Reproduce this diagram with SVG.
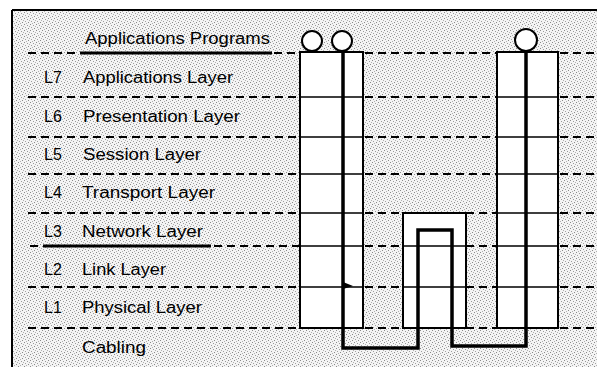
<svg xmlns="http://www.w3.org/2000/svg" width="597" height="367" viewBox="0 0 597 367">
<defs>
<pattern id="stip" width="6" height="6" patternUnits="userSpaceOnUse">
<rect width="6" height="6" fill="#f4f4f4"/>
<rect x="0" y="0" width="1" height="1" fill="#8a8a8a"/>
<rect x="3" y="1" width="1" height="1" fill="#9a9a9a"/>
<rect x="1" y="3" width="1" height="1" fill="#a0a0a0"/>
<rect x="4" y="4" width="1" height="1" fill="#8a8a8a"/>
<rect x="5" y="2" width="1" height="1" fill="#b0b0b0"/>
<rect x="2" y="5" width="1" height="1" fill="#b0b0b0"/>
</pattern>
</defs>
<style>
.t{font-family:"Liberation Sans",Arial,sans-serif;font-size:16px;fill:#000}
.dash{stroke:#000;stroke-width:2;stroke-dasharray:8 5;fill:none}
.solid{stroke:#000;stroke-width:2;fill:none}
.thin{stroke:#000;stroke-width:1.5;fill:none}
.box{fill:#fff;stroke:#000;stroke-width:2}
.circ{fill:#fff;stroke:#000;stroke-width:2}
.wire{stroke:#000;stroke-width:3.5;fill:none;stroke-linejoin:miter}
</style>
<rect x="0" y="0" width="597" height="367" fill="#fff"/>
<rect x="12" y="10" width="585" height="357" fill="url(#stip)"/>
<g id="frame">
<line x1="12" y1="10" x2="597" y2="10" class="solid"/>
<line x1="12" y1="10" x2="12" y2="367" class="solid"/>
</g>
<g id="layer-lines">
<line x1="28" y1="53" x2="80" y2="53" class="dash"/>
<line x1="80" y1="53" x2="272" y2="53" stroke="#000" stroke-width="3"/>
<line x1="274" y1="53" x2="300" y2="53" class="dash"/>
<line x1="28" y1="97" x2="300" y2="97" class="dash"/>
<line x1="28" y1="137" x2="300" y2="137" class="dash"/>
<line x1="28" y1="174" x2="300" y2="174" class="dash"/>
<line x1="28" y1="213" x2="300" y2="213" class="dash"/>
<line x1="30" y1="246" x2="42" y2="246" class="dash"/>
<line x1="43" y1="246" x2="211" y2="246" stroke="#000" stroke-width="3"/>
<line x1="214" y1="246" x2="300" y2="246" class="dash"/>
<line x1="28" y1="287" x2="300" y2="287" class="dash"/>
<line x1="28" y1="328" x2="300" y2="328" class="dash"/>
<path class="dash" d="M365 53H497M365 97H497M365 137H497M365 174H497M365 213H403M466 213H497M365 246H403M466 246H497M365 287H403M466 287H497M365 328H403M466 328H497"/>
<path class="dash" d="M560 53H597M560 97H597M560 137H597M560 174H597M560 213H597M560 246H597M560 287H597M560 328H597"/>
</g>
<g id="labels">
<text class="t" x="85" y="44" textLength="185" lengthAdjust="spacingAndGlyphs">Applications Programs</text>
<text class="t" x="44" y="83">L7</text>
<text class="t" x="83" y="83" textLength="150" lengthAdjust="spacingAndGlyphs">Applications Layer</text>
<text class="t" x="44" y="122">L6</text>
<text class="t" x="83" y="122" textLength="157" lengthAdjust="spacingAndGlyphs">Presentation Layer</text>
<text class="t" x="44" y="160">L5</text>
<text class="t" x="83" y="160" textLength="118" lengthAdjust="spacingAndGlyphs">Session Layer</text>
<text class="t" x="44" y="198">L4</text>
<text class="t" x="82" y="198" textLength="133" lengthAdjust="spacingAndGlyphs">Transport Layer</text>
<text class="t" x="44" y="237">L3</text>
<text class="t" x="82" y="237" textLength="121" lengthAdjust="spacingAndGlyphs">Network Layer</text>
<text class="t" x="44" y="275">L2</text>
<text class="t" x="82" y="275" textLength="84" lengthAdjust="spacingAndGlyphs">Link Layer</text>
<text class="t" x="44" y="313">L1</text>
<text class="t" x="82" y="313" textLength="120" lengthAdjust="spacingAndGlyphs">Physical Layer</text>
<text class="t" x="82" y="353" textLength="64" lengthAdjust="spacingAndGlyphs">Cabling</text>
</g>
<g id="host-a">
<rect x="300" y="52" width="63" height="276" class="box"/>
<path class="thin" d="M300 97H363M300 137H363M300 174H363M300 213H363M300 246H363M300 287H363"/>
<circle cx="312" cy="41" r="10" class="circ"/>
<circle cx="342" cy="41" r="10" class="circ"/>
</g>
<g id="router">
<rect x="403" y="213" width="63" height="115" class="box"/>
<path class="thin" d="M403 246H466M403 287H466"/>
</g>
<g id="host-b">
<rect x="497" y="52" width="61" height="276" class="box"/>
<path class="thin" d="M497 97H558M497 137H558M497 174H558M497 213H558M497 246H558M497 287H558"/>
<circle cx="526" cy="40" r="11" class="circ"/>
</g>
<g id="connectors">
<path class="wire" d="M343 51V348H418V230H452V346H526V51"/>
<polygon points="343,282 353,286 343,289" fill="#000"/>
</g>
</svg>
